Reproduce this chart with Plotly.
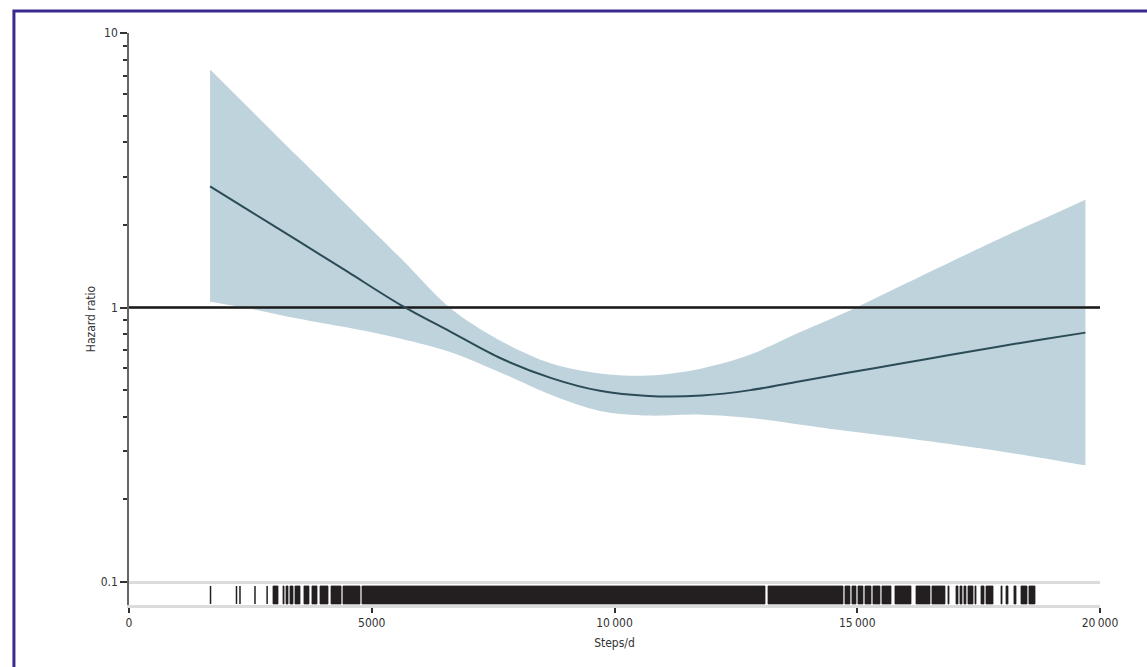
import plotly.graph_objects as go

# ---- data ----
steps = [1670, 2500, 3500, 4500, 5600, 6600, 7600, 8700, 9700, 10700,
         11800, 12800, 13800, 14800, 15900, 16900, 17900, 18800, 19700]
hazard_ratio = [2.76, 2.24, 1.74, 1.35, 1.02, 0.82, 0.66, 0.553, 0.497, 0.476,
                0.478, 0.50, 0.538, 0.578, 0.625, 0.671, 0.72, 0.765, 0.81]
ci_upper = [7.36, 5.26, 3.51, 2.35, 1.51, 1.0, 0.765, 0.625, 0.575, 0.565,
            0.60, 0.674, 0.81, 0.967, 1.20, 1.46, 1.77, 2.09, 2.47]
ci_lower = [1.05, 0.99, 0.91, 0.845, 0.77, 0.69, 0.585, 0.48, 0.42, 0.404,
            0.407, 0.396, 0.375, 0.355, 0.336, 0.318, 0.30, 0.283, 0.266]

# rug: isolated observations and dense spans (steps/d)
rug_single = [1679, 2214, 2286, 2595, 2845]
rug_start = [2966, 3172, 3234, 3316, 3419, 3604, 3769, 3934, 4161, 4408, 4799,
             13162, 14747, 14891, 15015, 15159, 15324, 15509, 15777, 16210,
             16539, 16869, 17034, 17116, 17198, 17281, 17425, 17549, 17652,
             17961, 18064, 18228, 18373, 18537]
rug_end = [3069, 3193, 3275, 3378, 3522, 3707, 3872, 4099, 4367, 4758, 13100,
           14706, 14850, 14974, 15118, 15283, 15468, 15695, 16107, 16498,
           16807, 16890, 17075, 17157, 17239, 17384, 17446, 17611, 17796,
           17982, 18105, 18270, 18496, 18661]

x_ticks = [0, 5000, 10000, 15000, 20000]
x_ticklabels = ["0", "5000", "10\u2009000", "15\u2009000", "20\u2009000"]
y_ticks = [0.1, 1, 10]
y_ticklabels = ["0.1", "1", "10"]
y_minor = [0.2, 0.3, 0.4, 0.5, 0.6, 0.7, 0.8, 0.9, 2, 3, 4, 5, 6, 7, 8, 9]

# ---- styling ----
FONT = "Liberation Sans Narrow, DejaVu Sans Condensed, Liberation Sans, sans-serif"
BAND = "#bfd3dc"
LINE = "#2b4b57"
RUG = "#231f20"
RUG_LO, RUG_HI = 0.0832, 0.0967
SMOOTH = 0.9

fig = go.Figure()

# confidence band
fig.add_trace(go.Scatter(x=steps, y=ci_lower, mode="lines",
                         line=dict(width=0, shape="spline", smoothing=SMOOTH),
                         hoverinfo="skip", showlegend=False))
fig.add_trace(go.Scatter(x=steps, y=ci_upper, mode="lines", fill="tonexty",
                         fillcolor=BAND,
                         line=dict(width=0, shape="spline", smoothing=SMOOTH),
                         hoverinfo="skip", showlegend=False))

# reference line at HR = 1
fig.add_trace(go.Scatter(x=[x_ticks[0], x_ticks[-1]], y=[1, 1], mode="lines",
                         line=dict(color="#1a1a1a", width=2.5),
                         hoverinfo="skip", showlegend=False))

# estimated hazard ratio
fig.add_trace(go.Scatter(x=steps, y=hazard_ratio, mode="lines",
                         line=dict(color=LINE, width=2, shape="spline", smoothing=SMOOTH),
                         showlegend=False))

# rug - dense spans
bx, by = [], []
for s, e in zip(rug_start, rug_end):
    bx += [s, e, e, s, s, None]
    by += [RUG_LO, RUG_LO, RUG_HI, RUG_HI, RUG_LO, None]
fig.add_trace(go.Scatter(x=bx, y=by, mode="lines", fill="toself",
                         fillcolor=RUG, line=dict(color=RUG, width=0.8),
                         hoverinfo="skip", showlegend=False))
# rug - single ticks
sx, sy = [], []
for s in rug_single:
    sx += [s, s, None]
    sy += [RUG_LO, RUG_HI, None]
fig.add_trace(go.Scatter(x=sx, y=sy, mode="lines",
                         line=dict(color=RUG, width=1.5),
                         hoverinfo="skip", showlegend=False))

fig.update_layout(
    width=1147, height=667,
    margin=dict(l=129, r=47, t=33, b=62),
    paper_bgcolor="white", plot_bgcolor="white",
    font=dict(family=FONT, size=12, color="#333333"),
    xaxis=dict(
        range=[0, 20000], tickmode="array", tickvals=x_ticks, ticktext=x_ticklabels,
        showgrid=False, zeroline=False,
        showline=True, linecolor="#dcdcdc", linewidth=3,
        ticks="outside", ticklen=5, tickwidth=1.5, tickcolor="#333333",
        title=dict(text="Steps/d", standoff=10, font=dict(size=12)),
    ),
    yaxis=dict(
        type="log", range=[-1.0838, 1],
        tickmode="array", tickvals=y_ticks, ticktext=y_ticklabels,
        showgrid=True, gridcolor="#dcdcdc", gridwidth=3, zeroline=False,
        showline=True, linecolor="#666666", linewidth=1.5,
        ticks="outside", ticklen=7, tickwidth=1.5, tickcolor="#333333",
        minor=dict(tickmode="array", tickvals=y_minor, ticks="outside",
                   ticklen=4, tickwidth=1.5, tickcolor="#333333", showgrid=False),
        title=dict(text="Hazard ratio", standoff=2, font=dict(size=12)),
    ),
    shapes=[dict(type="rect", xref="paper", yref="paper",
                 x0=-0.1185, x1=1.2, y0=-0.3, y1=1.0385,
                 line=dict(color="#3a2a8e", width=3), layer="above")],
)

fig.write_html("out.html")
